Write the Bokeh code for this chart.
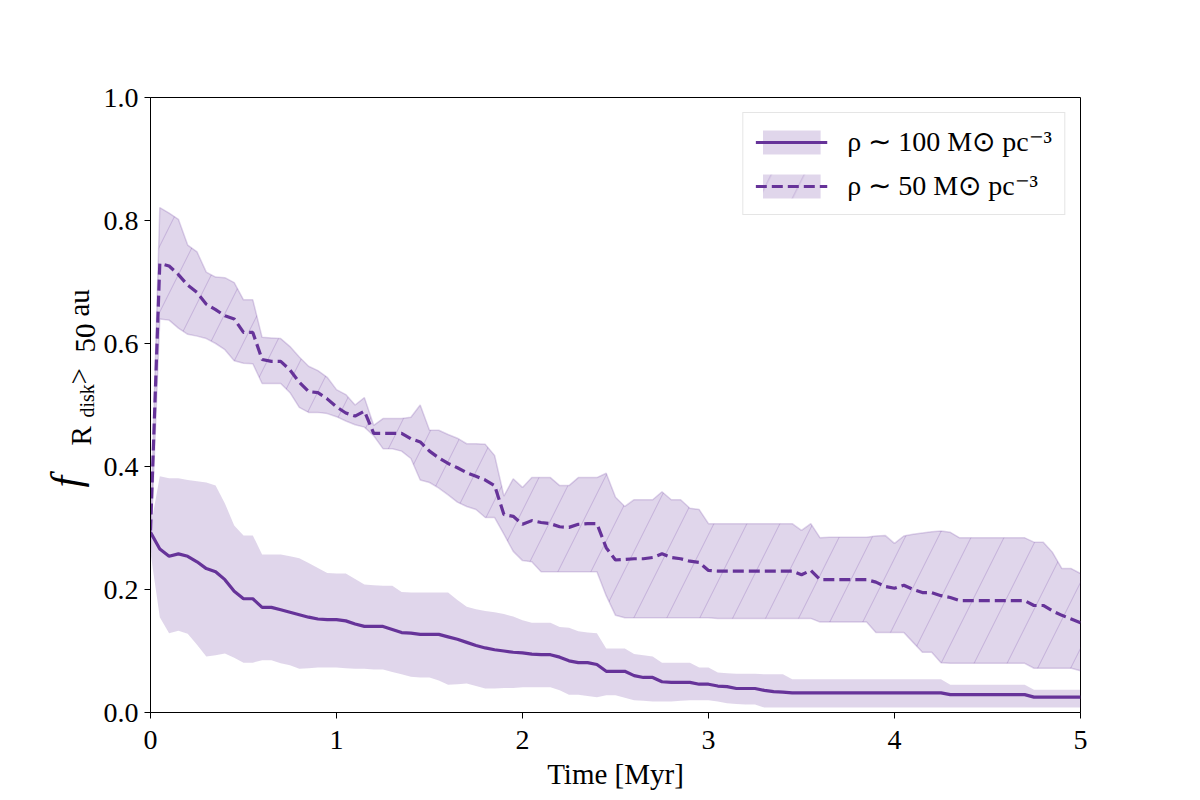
import numpy as np
from bokeh.plotting import figure
from bokeh.layouts import row
from bokeh.models import Legend, LegendItem, Label, FixedTicker, NumeralTickFormatter, Range1d
from bokeh.embed import file_html
from bokeh.resources import INLINE

# time grid [Myr]
time = np.round(np.arange(0, 101) * 0.05, 2)

# rho ~ 100 Msun pc^-3 : median and band
f100 = [0.293, 0.266, 0.254, 0.258, 0.254, 0.245, 0.234, 0.229, 0.216, 0.197,
        0.185, 0.185, 0.171, 0.171, 0.167, 0.163, 0.159, 0.155, 0.152, 0.151,
        0.151, 0.149, 0.144, 0.140, 0.140, 0.140, 0.135, 0.130, 0.129, 0.127,
        0.127, 0.127, 0.123, 0.119, 0.114, 0.109, 0.105, 0.102, 0.100, 0.098,
        0.097, 0.095, 0.094, 0.094, 0.090, 0.084, 0.081, 0.081, 0.078, 0.067,
        0.067, 0.067, 0.060, 0.057, 0.057, 0.050, 0.049, 0.049, 0.049, 0.046,
        0.046, 0.043, 0.042, 0.039, 0.039, 0.039, 0.036, 0.034, 0.033,
        0.032, 0.032, 0.032, 0.032, 0.032, 0.032, 0.032, 0.032, 0.032, 0.032,
        0.032, 0.032, 0.032, 0.032, 0.032, 0.032, 0.032,
        0.029, 0.029, 0.029, 0.029, 0.029, 0.029, 0.029, 0.029, 0.029,
        0.025, 0.025, 0.025, 0.025, 0.025, 0.025]
u100 = [0.300, 0.384, 0.381, 0.381, 0.378, 0.376, 0.374, 0.369, 0.340, 0.304,
        0.288, 0.288, 0.257, 0.257, 0.257, 0.254, 0.251, 0.243, 0.235, 0.227,
        0.226, 0.226, 0.217, 0.208, 0.207, 0.206, 0.206, 0.196, 0.195, 0.195,
        0.195, 0.195, 0.195, 0.183, 0.172, 0.168, 0.165, 0.163, 0.160, 0.156,
        0.150, 0.146, 0.146, 0.146, 0.139, 0.138, 0.132, 0.130, 0.129, 0.104,
        0.104, 0.104, 0.095, 0.093, 0.091, 0.081, 0.081, 0.081, 0.081, 0.073,
        0.073, 0.065, 0.064, 0.063, 0.063, 0.063, 0.062, 0.062, 0.062,
        0.054, 0.054, 0.054, 0.054, 0.054, 0.054, 0.054, 0.054, 0.054, 0.054,
        0.054, 0.054, 0.054, 0.054, 0.054, 0.054, 0.054,
        0.045, 0.045, 0.045, 0.045, 0.045, 0.045, 0.045, 0.045, 0.045,
        0.037, 0.037, 0.037, 0.037, 0.037, 0.037]
l100 = [0.260, 0.155, 0.129, 0.133, 0.128, 0.110, 0.091, 0.093, 0.096, 0.089,
        0.081, 0.081, 0.085, 0.085, 0.080, 0.077, 0.071, 0.072, 0.073, 0.073,
        0.073, 0.072, 0.071, 0.071, 0.070, 0.070, 0.066, 0.062, 0.058, 0.057,
        0.057, 0.052, 0.045, 0.046, 0.047, 0.043, 0.039, 0.039, 0.040, 0.040,
        0.041, 0.041, 0.041, 0.041, 0.036, 0.029, 0.029, 0.027, 0.025, 0.028,
        0.028, 0.024, 0.020, 0.019, 0.018, 0.018, 0.018, 0.019, 0.020, 0.020,
        0.020, 0.018, 0.015, 0.014, 0.013, 0.013,
        0.008, 0.008, 0.008, 0.008, 0.008, 0.008, 0.008, 0.008, 0.008, 0.008,
        0.008, 0.008, 0.008, 0.008, 0.008, 0.008, 0.008, 0.008, 0.008, 0.008,
        0.008, 0.008, 0.008, 0.008, 0.008, 0.008, 0.008, 0.008, 0.008, 0.008,
        0.008, 0.008, 0.008, 0.008, 0.008]

# rho ~ 50 Msun pc^-3 : median and band
f50 = [0.296, 0.730, 0.726, 0.712, 0.695, 0.683, 0.664, 0.655, 0.645, 0.640,
       0.618, 0.618, 0.574, 0.571, 0.571, 0.557, 0.537, 0.522, 0.520, 0.510,
       0.497, 0.487, 0.482, 0.490, 0.454, 0.454, 0.454, 0.454, 0.445, 0.440,
       0.425, 0.414, 0.405, 0.398, 0.390, 0.384, 0.378, 0.369, 0.322, 0.319,
       0.306, 0.312, 0.309, 0.307, 0.302, 0.301, 0.306, 0.307, 0.307, 0.268,
       0.248, 0.249, 0.250, 0.250, 0.252, 0.258, 0.252, 0.250, 0.246, 0.244,
       0.231,
       0.230, 0.230, 0.230, 0.230, 0.230, 0.230, 0.230, 0.230, 0.230,
       0.224, 0.231, 0.216, 0.216, 0.216, 0.216, 0.216, 0.216, 0.212, 0.205,
       0.202, 0.207, 0.200, 0.195, 0.195, 0.190, 0.187, 0.182,
       0.182, 0.182, 0.182, 0.182, 0.182, 0.182, 0.182,
       0.174, 0.174, 0.165, 0.158, 0.152, 0.146]
u50 = [0.300, 0.821, 0.812, 0.802, 0.760, 0.749, 0.716, 0.708, 0.707, 0.699,
       0.671, 0.671, 0.610, 0.609, 0.608, 0.595, 0.578, 0.563, 0.556, 0.545,
       0.525, 0.517, 0.500, 0.512, 0.467, 0.478, 0.478, 0.478, 0.480, 0.500,
       0.459, 0.459, 0.452, 0.446, 0.437, 0.437, 0.436, 0.418, 0.352, 0.380,
       0.366, 0.382, 0.382, 0.382, 0.369, 0.369, 0.382, 0.382, 0.382, 0.389,
       0.350, 0.335, 0.346, 0.346, 0.346, 0.359, 0.346, 0.346, 0.332, 0.330,
       0.307,
       0.307, 0.307, 0.307, 0.307, 0.307, 0.307, 0.307, 0.307, 0.307,
       0.296, 0.307, 0.284,
       0.285, 0.285, 0.285, 0.285, 0.285,
       0.287, 0.288, 0.275, 0.287, 0.290, 0.292, 0.294, 0.295, 0.293, 0.284,
       0.284, 0.284, 0.284, 0.284, 0.284, 0.284, 0.284,
       0.277, 0.277, 0.260, 0.234, 0.234, 0.226]
l50 = [0.260, 0.640, 0.638, 0.625, 0.615, 0.612, 0.608, 0.600, 0.590, 0.572,
       0.568, 0.567, 0.535, 0.535, 0.535, 0.520, 0.496, 0.488, 0.488, 0.486,
       0.481, 0.474, 0.468, 0.464, 0.450, 0.429, 0.429, 0.425, 0.413, 0.378,
       0.374, 0.365, 0.354, 0.342, 0.335, 0.330, 0.317, 0.317, 0.290, 0.262,
       0.247, 0.245, 0.229,
       0.229, 0.229, 0.229, 0.229, 0.229, 0.229,
       0.190, 0.158,
       0.154, 0.154, 0.154, 0.154, 0.154, 0.154, 0.154, 0.154, 0.154, 0.154,
       0.153, 0.153, 0.153, 0.153, 0.153, 0.153, 0.153, 0.153, 0.153,
       0.153, 0.153, 0.147,
       0.147, 0.147, 0.147, 0.147, 0.147,
       0.130, 0.130, 0.130, 0.130,
       0.114, 0.098, 0.098, 0.081, 0.080,
       0.080, 0.080, 0.080, 0.080, 0.080, 0.080, 0.080, 0.080,
       0.072, 0.072, 0.072, 0.072, 0.072, 0.068]

label100 = "ρ ∼ 100 M⊙ pc⁻³"
label50 = "ρ ∼ 50 M⊙ pc⁻³"
x_ticks = [0, 1, 2, 3, 4, 5]
y_ticks = [0.0, 0.2, 0.4, 0.6, 0.8, 1.0]

for arr in (f100, u100, l100, f50, u50, l50):
    assert len(arr) == len(time), len(arr)

PURPLE = "#663399"
FONT = "Liberation Serif"
LABW = 100  # width of the strip that carries the y-axis title

p = figure(width=1200 - LABW, height=800, output_backend="svg", toolbar_location=None,
           x_range=Range1d(0, 5), y_range=Range1d(0, 1),
           min_border_left=150 - LABW, min_border_right=120, min_border_top=97,
           min_border_bottom=88)
p.background_fill_color = "white"
p.border_fill_color = "white"
p.outline_line_color = "black"
p.outline_line_width = 1
p.grid.visible = False

# bands
band100 = p.varea(x=time, y1=l100, y2=u100, fill_color=PURPLE, fill_alpha=0.2)
band50 = p.varea(x=time, y1=l50, y2=u50, fill_color=PURPLE, fill_alpha=0.2,
                 hatch_pattern="/", hatch_color=PURPLE, hatch_alpha=0.2,
                 hatch_scale=66, hatch_weight=1.1)
p.line(time, u50, line_color=PURPLE, line_alpha=0.2, line_width=1.5)
p.line(time, l50, line_color=PURPLE, line_alpha=0.2, line_width=1.5)

line100 = p.line(time, f100, line_color=PURPLE, line_width=3.2)
line50 = p.line(time, f50, line_color=PURPLE, line_width=3.2, line_dash="11 5")

# axes
for ax in (p.xaxis[0], p.yaxis[0]):
    ax.major_tick_out = 6
    ax.major_tick_in = 0
    ax.minor_tick_line_color = None
    ax.axis_line_color = "black"
    ax.major_tick_line_color = "black"
    ax.major_label_text_font = FONT
    ax.major_label_text_font_size = "28px"
    ax.major_label_text_color = "black"
    ax.major_label_standoff = 6
    ax.axis_label_text_font = FONT
    ax.axis_label_text_font_style = "normal"
    ax.axis_label_text_font_size = "29px"
    ax.axis_label_text_color = "black"

p.xaxis[0].ticker = FixedTicker(ticks=x_ticks)
p.yaxis[0].ticker = FixedTicker(ticks=y_ticks)
p.yaxis[0].formatter = NumeralTickFormatter(format="0.0")
p.xaxis[0].major_label_standoff = 12
p.xaxis[0].axis_label = "Time [Myr]"
p.xaxis[0].axis_label_standoff = 6

legend = Legend(items=[LegendItem(label=label100, renderers=[band100, line100]),
                       LegendItem(label=label50, renderers=[band50, line50])],
                location="top_right")
legend.glyph_width = 72
legend.glyph_height = 30
legend.label_text_font = FONT
legend.label_text_font_size = "28px"
legend.label_text_color = "black"
legend.label_standoff = 20
legend.spacing = 11
legend.padding = 12
legend.margin = 15
legend.border_line_color = "#cccccc"
legend.border_line_width = 1
legend.background_fill_alpha = 0.8
p.add_layout(legend)

# strip on the left carrying the y-axis title: f with subscript R_disk > 50 au.
# Its frame is aligned with the main frame, so screen y is measured from y = 712 px.
# text_baseline="bottom": the anchor is the outer edge of each rotated text box.
lab = figure(width=LABW, height=800, output_backend="svg", toolbar_location=None,
             x_axis_type=None, y_axis_type=None, min_border=0,
             min_border_left=0, min_border_right=0, min_border_top=0, min_border_bottom=0)
lab.outline_line_color = None
lab.background_fill_color = "white"
lab.border_fill_color = "white"
ylab_parts = [
    ("f", 88, 225, "42px", "italic"),
    ("R", 96, 267, "29px", "normal"),
    ("disk", 97, 295, "20px", "normal"),
    (">", 94, 328, "29px", "normal"),
    ("50", 94, 360, "29px", "normal"),
    ("au", 94, 396, "29px", "normal"),
]
for txt, xs, ys, fs, st in ylab_parts:
    lab.add_layout(Label(x=xs, y=ys, x_units="screen", y_units="screen", text=txt,
                         angle=np.pi / 2, text_font=FONT, text_font_size=fs,
                         text_font_style=st, text_color="black",
                         text_align="left", text_baseline="bottom"))

layout = row(lab, p, spacing=0)
open("out.html", "w").write(file_html(layout, INLINE))
